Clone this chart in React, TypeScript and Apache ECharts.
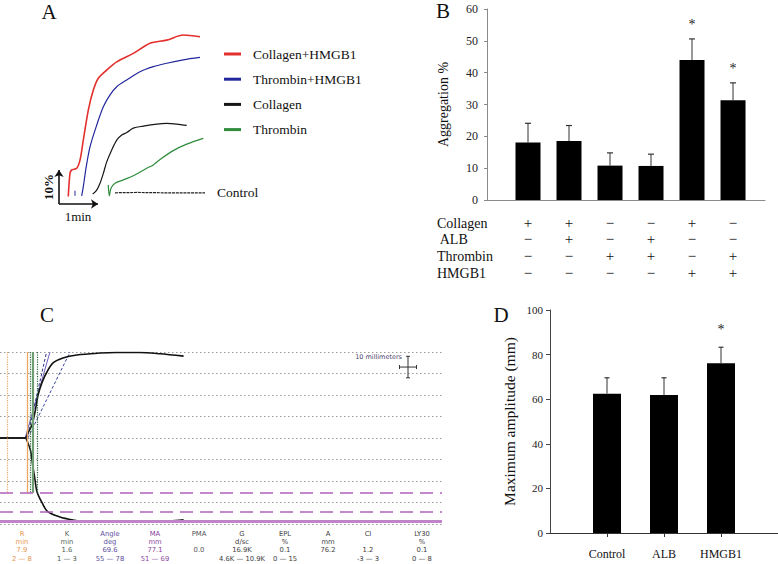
import React, { useEffect, useRef } from 'react';
import * as echarts from 'echarts';

const SERIF = "'Liberation Serif', 'Times New Roman', serif";
const SANS = "'DejaVu Sans', sans-serif";

// ---------- Panel A: aggregation traces, [time (s), aggregation (%)]
const traceNames = ['Collagen+HMGB1', 'Thrombin+HMGB1', 'Collagen', 'Thrombin'];
const traceColors = ['#e3302c', '#22289c', '#161616', '#2f8c3d'];
const traceCollagenHMGB1 = [[14.3, 2.2], [16.9, 9.0], [19.5, 10.0], [27.2, 10.5], [32.3, 12.9], [37.4, 18.8], [45.1, 27.6], [52.8, 33.5], [60.5, 37.0], [73.4, 39.4], [88.8, 41.8], [114.3, 44.3], [140.0, 47.3], [165.7, 48.2], [191.2, 49.7], [216.9, 49.2]];
const traceThrombinHMGB1 = [[34.9, 2.4], [37.4, 5.1], [41.5, 10.5], [47.7, 16.8], [58.0, 23.2], [68.2, 28.6], [78.5, 32.1], [88.8, 34.5], [104.2, 36.5], [124.6, 38.9], [145.1, 40.4], [165.7, 41.4], [191.2, 42.4], [216.9, 43.1]];
const traceCollagen = [[51.8, 2.9], [58.0, 4.1], [63.1, 6.1], [68.2, 9.0], [73.4, 12.4], [81.1, 15.9], [88.8, 18.8], [96.5, 20.3], [104.2, 21.0], [114.3, 22.3], [129.7, 22.9], [150.3, 23.5], [165.7, 23.7], [181.1, 23.5], [196.5, 23.1]];
const traceThrombin = [[75.8, 5.6], [77.4, 2.4], [80.0, 4.6], [86.2, 6.1], [98.9, 7.1], [114.3, 8.3], [134.9, 10.5], [145.1, 11.5], [155.4, 13.1], [175.8, 15.7], [196.5, 17.6], [222.0, 19.3]];
const traceControl = [[86.2, 3.3], [120, 3.4], [160, 3.3], [200, 3.3], [224.6, 3.3]];
const traceBlip = [[24.6, 2.4], [24.6, 3.9]];
const scaleBarTime = 60; // 1 min
const scaleBarAgg = 10; // 10 %

// ---------- Panel B: aggregation %
const bPositions = [1, 2, 3, 4, 5, 6];
const bMeans = [18.1, 18.5, 10.8, 10.7, 44.0, 31.3];
const bErrTop = [24.1, 23.4, 14.8, 14.4, 50.6, 36.8];
const bSignificant = [false, false, false, false, true, true];
const bRowLabels = ['Collagen', ' ALB', 'Thrombin', 'HMGB1'];
const bSigns = [
  ['+', '+', '−', '−', '+', '−'],
  ['−', '+', '−', '+', '−', '−'],
  ['−', '−', '+', '+', '−', '+'],
  ['−', '−', '−', '−', '+', '+'],
];

// ---------- Panel C: TEG tracing, [time (min), amplitude (mm)]
const tegUpper = [[0, 0], [7.4, 0], [8.2, 2.3], [9.4, 6], [10.3, 12.1], [11.2, 20], [12.4, 26], [13.8, 30.7], [15.6, 34.9], [18.5, 37.2], [22.6, 38.6], [29.4, 39.5], [34, 39.8], [41, 39.8], [47, 39.2], [54, 38.1]];
const tegLower = [[0, 0], [7.4, 0], [8.2, -2.3], [9.0, -6], [9.7, -13.5], [10.3, -19.5], [10.9, -25.1], [12.4, -30.2], [14.1, -34.4], [17.6, -36.7], [21.5, -38.1], [25.6, -39.1], [42, -39.1], [50, -38.6], [54, -38.1]];
const angleSolid = [[7.4, 0], [14.7, 40]];
const angleDashA = [[8.2, 1.4], [13.7, 40]];
const angleDashB = [[8.2, 0], [20.6, 40]];
const tegR = 7.9;
const tegRRange = [2, 8];
const tegK = 1.6;
const tegKRange = [1, 3];
const tegMA = 77.1;
const tegMARange = [51, 69];
const tegCrosshair = [[120, 33, 2.5, 5]];
const tegColumns = [
  ['R', 'min', '7.9', '2 — 8'],
  ['K', 'min', '1.6', '1 — 3'],
  ['Angle', 'deg', '69.6', '55 — 78'],
  ['MA', 'mm', '77.1', '51 — 69'],
  ['PMA', '', '0.0', ''],
  ['G', 'd/sc', '16.9K', '4.6K — 10.9K'],
  ['EPL', '%', '0.1', '0 — 15'],
  ['A', 'mm', '76.2', ''],
  ['CI', '', '1.2', '-3 — 3'],
  ['LY30', '%', '0.1', '0 — 8'],
];
const tegColColors = ['#e8944e', '#4f5f52', '#5a4c9c', '#8c449e', '#555555', '#3c3c3c', '#3c3c3c', '#3c3c3c', '#3c3c3c', '#3c3c3c'];
const tegColX = [22, 67, 110, 155, 199, 242, 285, 328, 368, 422];
const tegRowY = [534, 542, 550, 559];

// ---------- Panel D: maximum amplitude
const dNames = ['Control', 'ALB', 'HMGB1'];
const dPositions = [1, 2, 3];
const dMeans = [62.5, 61.9, 76.1];
const dErrTop = [69.6, 69.6, 83.3];
const dSignificant = [false, false, true];

const bRowY = [223, 239, 256, 273];

function errRender(sig: boolean[], capHalf: number, starGap: number) {
  return (params: any, api: any) => {
    const x = api.value(0);
    const p0 = api.coord([x, api.value(1)]);
    const p1 = api.coord([x, api.value(2)]);
    const children: any[] = [
      { type: 'line', shape: { x1: p0[0], y1: p0[1], x2: p1[0], y2: p1[1] }, style: { stroke: '#333', fill: 'none', lineWidth: 1 } },
      { type: 'line', shape: { x1: p1[0] - capHalf, y1: p1[1], x2: p1[0] + capHalf, y2: p1[1] }, style: { stroke: '#333', fill: 'none', lineWidth: 1.2 } },
    ];
    if (sig[params.dataIndex]) {
      children.push({
        type: 'text', x: p1[0], y: p1[1] - starGap,
        style: { text: '*', fontSize: 14, fontFamily: SERIF, fill: '#222', align: 'center', verticalAlign: 'middle' },
      });
    }
    return { type: 'group', children };
  };
}

export default function App() {
  const ref = useRef<HTMLDivElement>(null);
  useEffect(() => {
    if (!ref.current) return;
    const chart = echarts.init(ref.current, undefined, { renderer: 'svg' });
    const traces = [traceCollagenHMGB1, traceThrombinHMGB1, traceCollagen, traceThrombin];

    const graphic: any[] = [];
    const letter = (t: string, x: number, y: number) => graphic.push({
      type: 'text', x, y, style: { text: t, fontSize: 21, fontFamily: SERIF, fill: '#111', align: 'center', verticalAlign: 'middle' },
    });
    letter('A', 49, 12);
    letter('B', 443, 11);
    letter('C', 47, 315);
    letter('D', 501, 315);
    graphic.push({ type: 'text', x: 48, y: 187, rotation: Math.PI / 2, style: { text: '10%', fontSize: 13, fontWeight: 'bold', fontFamily: SERIF, fill: '#111', align: 'center', verticalAlign: 'middle' } });
    graphic.push({ type: 'text', x: 78, y: 216, style: { text: '1min', fontSize: 13, fontFamily: SERIF, fill: '#111', align: 'center', verticalAlign: 'middle' } });
    bRowLabels.forEach((l, i) => graphic.push({
      type: 'text', x: 437, y: bRowY[i], style: { text: l, fontSize: 14, fontFamily: SERIF, fill: '#111', align: 'left', verticalAlign: 'middle' },
    }));
    tegColumns.forEach((col, i) => col.forEach((t, r) => {
      if (!t) return;
      graphic.push({ type: 'text', x: tegColX[i], y: tegRowY[r], style: { text: t, fontSize: 6.8, fontFamily: SANS, fill: tegColColors[i], align: 'center', verticalAlign: 'middle' } });
    }));

    const orange = '#f0a860';
    const purple = '#b062b8';
    const vLine = (x: number, color: string, type: any, width: number) => [
      { coord: [x, 40], lineStyle: { color, type, width } },
      { coord: [x, -tegMARange[0] / 2] },
    ];

    const option: any = {
      animation: false,
      backgroundColor: '#ffffff',
      textStyle: { fontFamily: SERIF },
      grid: [
        { left: 59, top: 34, width: 156, height: 170, outerBoundsMode: 'none' },
        { left: 487, top: 9, width: 278, height: 191, outerBoundsMode: 'none' },
        { left: 0, top: 352, width: 442, height: 172, outerBoundsMode: 'none' },
        { left: 550, top: 310, width: 228, height: 223, outerBoundsMode: 'none' },
      ],
      xAxis: [
        { gridIndex: 0, type: 'value', min: 0, max: 240, show: false },
        { gridIndex: 1, type: 'value', min: 0, max: 6.78, axisLine: { show: true, onZero: false, lineStyle: { color: '#8a8a8a', width: 1 } }, axisTick: { show: false }, axisLabel: { show: false }, splitLine: { show: false } },
        { gridIndex: 2, type: 'value', min: 0, max: 130, show: false },
        {
          gridIndex: 3, type: 'value', min: 0, max: 4,
          axisLine: { show: true, onZero: false, lineStyle: { color: '#333', width: 1 } },
          axisTick: { show: true, customValues: dPositions, length: 4, lineStyle: { color: '#333' } },
          axisLabel: { show: true, customValues: dPositions, formatter: (v: number) => dNames[Math.round(v) - 1] ?? '', fontSize: 12, fontFamily: SERIF, color: '#111', margin: 15 },
          splitLine: { show: false },
        },
      ],
      yAxis: [
        { gridIndex: 0, type: 'value', min: 0, max: 50, show: false },
        {
          gridIndex: 1, type: 'value', min: 0, max: 60, interval: 10,
          name: 'Aggregation %', nameLocation: 'middle', nameGap: 37, nameTextStyle: { fontSize: 14, fontFamily: SERIF, color: '#111' },
          axisLine: { show: true, lineStyle: { color: '#8a8a8a', width: 1 } },
          axisTick: { show: true, length: 3, lineStyle: { color: '#8a8a8a' } },
          axisLabel: { fontSize: 12, fontFamily: SERIF, color: '#222', margin: 9 },
          splitLine: { show: false },
        },
        {
          gridIndex: 2, type: 'value', min: -40, max: 40, interval: 10,
          axisLine: { show: false }, axisTick: { show: false }, axisLabel: { show: false },
          splitLine: { show: true, lineStyle: { color: '#9a9a9a', type: [1.5, 2.5], width: 1 } },
        },
        {
          gridIndex: 3, type: 'value', min: 0, max: 100, interval: 20,
          name: 'Maximum amplitude (mm)', nameLocation: 'middle', nameGap: 33, nameTextStyle: { fontSize: 15.5, fontFamily: SERIF, color: '#111' },
          axisLine: { show: true, lineStyle: { color: '#444', width: 1 } },
          axisTick: { show: true, length: 4, lineStyle: { color: '#444' } },
          axisLabel: { fontSize: 11, fontFamily: SERIF, color: '#222', margin: 7 },
          splitLine: { show: false },
        },
      ],
      legend: {
        data: traceNames, orient: 'vertical', left: 219, top: 42, itemWidth: 17, itemHeight: 3, itemGap: 11.2,
        icon: 'rect', selectedMode: false,
        textStyle: { fontSize: 13.5, fontFamily: SERIF, color: '#111', padding: [0, 0, 0, 7] },
      },
      graphic,
      series: [
        // ---- Panel A
        ...traces.map((d, i) => ({
          name: traceNames[i], type: 'line', xAxisIndex: 0, yAxisIndex: 0, data: d, symbol: 'none', smooth: 0.3,
          lineStyle: { color: traceColors[i], width: i === 0 ? 1.6 : 1.2 }, itemStyle: { color: traceColors[i] }, z: 3,
        })),
        {
          name: 'Control', type: 'line', xAxisIndex: 0, yAxisIndex: 0, data: traceControl, symbol: 'none',
          lineStyle: { color: '#222', width: 1.2, type: [3, 0.8] }, itemStyle: { color: '#222' },
          endLabel: { show: true, formatter: 'Control', distance: 12, fontSize: 13.5, fontFamily: SERIF, color: '#111' },
        },
        { name: 'blip', type: 'line', xAxisIndex: 0, yAxisIndex: 0, data: traceBlip, symbol: 'none', lineStyle: { color: traceColors[1], width: 1 } },
        {
          name: 'scale', type: 'line', xAxisIndex: 0, yAxisIndex: 0, data: [[0, 0]], symbol: 'none', lineStyle: { width: 0 },
          markLine: {
            silent: true, symbol: ['none', 'arrow'], symbolSize: 7, label: { show: false },
            lineStyle: { color: '#111', width: 1.6, type: 'solid' },
            data: [
              [{ coord: [0, 0] }, { coord: [0, scaleBarAgg] }],
              [{ coord: [0, 0] }, { coord: [scaleBarTime, 0] }],
            ],
          },
        },
        // ---- Panel B
        {
          name: 'Aggregation', type: 'bar', xAxisIndex: 1, yAxisIndex: 1, barWidth: 25,
          data: bPositions.map((p, i) => [p, bMeans[i]]), itemStyle: { color: '#000' },
        },
        {
          name: 'Aggregation SD', type: 'custom', xAxisIndex: 1, yAxisIndex: 1, itemStyle: { color: '#222' },
          data: bPositions.map((p, i) => [p, bMeans[i], bErrTop[i]]),
          renderItem: errRender(bSignificant, 3, 14), z: 4,
        },
        {
          name: 'Treatments', type: 'custom', xAxisIndex: 1, yAxisIndex: 1, itemStyle: { color: '#111' },
          data: bSigns.flatMap((row, r) => row.map((_, c) => [bPositions[c], r])),
          renderItem: (params: any, api: any) => {
            const col = api.value(0);
            const row = api.value(1);
            const x = Math.round(api.coord([col, 0])[0]);
            return {
              type: 'text', x, y: bRowY[row],
              style: { text: bSigns[row][col - 1], fontSize: 15, fontFamily: SERIF, fill: '#111', align: 'center', verticalAlign: 'middle' },
            };
          },
        },
        // ---- Panel C
        {
          name: 'guides', type: 'line', xAxisIndex: 2, yAxisIndex: 2, data: [[0, 0]], symbol: 'none', lineStyle: { width: 0 }, z: 1,
          markLine: {
            silent: true, symbol: 'none', label: { show: false },
            data: [
              vLine(tegRRange[0], orange, 'dotted', 1.2),
              vLine(tegRRange[1], orange, 'dotted', 1.2),
              vLine(tegR, orange, 'solid', 1.2),
              vLine(tegR + tegKRange[0], '#2c6a3c', 'dotted', 1.2),
              vLine(tegR + tegKRange[1], '#2c6a3c', 'dotted', 1.2),
              vLine(tegR + tegK, '#6f9e72', 'solid', 2.2),
              { yAxis: -tegMARange[0] / 2, lineStyle: { color: purple, type: [13, 7], width: 1.6 } },
              { yAxis: -tegMARange[1] / 2, lineStyle: { color: purple, type: [13, 7], width: 1.6 } },
              { yAxis: -tegMA / 2, lineStyle: { color: '#c183c9', type: 'solid', width: 3 } },
            ],
          },
        },
        { name: 'angle', type: 'line', xAxisIndex: 2, yAxisIndex: 2, data: angleSolid, symbol: 'none', lineStyle: { color: '#7060b8', width: 1 }, z: 2 },
        { name: 'angle a', type: 'line', xAxisIndex: 2, yAxisIndex: 2, data: angleDashA, symbol: 'none', lineStyle: { color: '#2a2f8a', width: 1, type: [3, 2] }, z: 2 },
        { name: 'angle b', type: 'line', xAxisIndex: 2, yAxisIndex: 2, data: angleDashB, symbol: 'none', lineStyle: { color: '#3a45a0', width: 1, type: [3, 2] }, z: 2 },
        { name: 'TEG upper', type: 'line', xAxisIndex: 2, yAxisIndex: 2, data: tegUpper, symbol: 'none', smooth: 0.3, lineStyle: { color: '#111', width: 1.6 }, z: 3 },
        { name: 'TEG lower', type: 'line', xAxisIndex: 2, yAxisIndex: 2, data: tegLower, symbol: 'none', smooth: 0.3, lineStyle: { color: '#111', width: 1.6 }, z: 3 },
        {
          name: 'scale cross', type: 'custom', xAxisIndex: 2, yAxisIndex: 2, data: tegCrosshair, itemStyle: { color: '#333' },
          renderItem: (params: any, api: any) => {
            const cx = api.value(0), cy = api.value(1), hw = api.value(2), hh = api.value(3);
            const l = api.coord([cx - hw, cy]);
            const r = api.coord([cx + hw, cy]);
            const t = api.coord([cx, cy + hh]);
            const b = api.coord([cx, cy - hh]);
            const s = { stroke: '#333', fill: 'none', lineWidth: 1 };
            const seg = (x1: number, y1: number, x2: number, y2: number) => ({ type: 'line', shape: { x1, y1, x2, y2 }, style: s });
            return {
              type: 'group',
              children: [
                seg(l[0], l[1], r[0], r[1]),
                seg(t[0], t[1], b[0], b[1]),
                seg(l[0], l[1] - 2, l[0], l[1] + 2),
                seg(r[0], r[1] - 2, r[0], r[1] + 2),
                seg(t[0] - 2, t[1], t[0] + 2, t[1]),
                seg(b[0] - 2, b[1], b[0] + 2, b[1]),
                { type: 'text', x: t[0] - 6, y: t[1] + 1, style: { text: '10 millimeters', fontSize: 6.5, fontFamily: SANS, fill: '#4a3f6a', align: 'right', verticalAlign: 'middle' } },
              ],
            };
          },
        },
        // ---- Panel D
        {
          name: 'Maximum amplitude', type: 'bar', xAxisIndex: 3, yAxisIndex: 3, barWidth: 28,
          data: dPositions.map((p, i) => [p, dMeans[i]]), itemStyle: { color: '#000' },
        },
        {
          name: 'Maximum amplitude SD', type: 'custom', xAxisIndex: 3, yAxisIndex: 3, itemStyle: { color: '#222' },
          data: dPositions.map((p, i) => [p, dMeans[i], dErrTop[i]]),
          renderItem: errRender(dSignificant, 2.5, 18), z: 4,
        },
      ],
    };
    chart.setOption(option);
    return () => chart.dispose();
  }, []);
  return <div ref={ref} style={{ position: 'fixed', left: 0, top: 0, width: 778, height: 564, background: '#fff' }} />;
}
